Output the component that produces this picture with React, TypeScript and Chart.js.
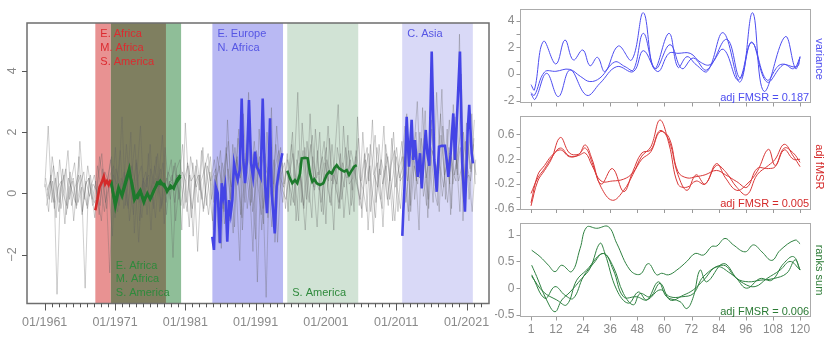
import React, { useEffect, useRef } from "react";
import { Chart, registerables } from "chart.js";

Chart.register(...registerables);

const FONT = '"Liberation Sans", Arial, Helvetica, sans-serif';

// ================= MAIN CHART DATA =================
const greyFirstYear = 1961;
const greyStepYears = 0.5;
const greyStartOffsets = [0, 0.25, 0.12, 0.37, 0.06, 0.31];

const grey1 = [0.2, 2.2, -0.3, 0.5, -0.6, 0.3, 0.8, -0.2, 0.4, -0.5, 1.7, 0.1, -0.4, 0.6,
  -0.3, 0.9, 0.2, -0.6, 0.5, 1.2, -0.8, 0.3, 2.5, -0.4, 0.7, -0.2, 1.1, -0.9, 0.4, 0.2, 1.6, -0.5, 0.3, 0.8, -1.0, 0.5, 1.1, -0.3,
  0.6, -1.2, 2.3, 0.2, -0.5, 0.9, 0.1, 1.5, -0.4, 0.7,
  -1.2, 0.5, 1.4, -0.6, 2.4, 0.3, -1.1, 1.8, 0.6, -0.3, 3.3, 0.1, -1.5, 2.1, 0.4, -3.4, 1.2, 0.3, 2.2, 0.5,
  0.2, 1.3, -0.4, 0.9, 3.3, -0.3, 1.5, 0.4, -0.8, 2.1, 0.6, 1.2, -1.0, 1.8, 0.3, 0.9, -0.5, 2.2, 0.5, 1.1,
  -0.6, 2.5, 0.4, 1.3, -1.2, 0.8, 1.9, 0.1, -0.5, 1.6, 0.7, -0.9, 1.2, 0.5,
  0.9, 2.6, -0.4, 1.4, 3.0, 0.3, 1.8, -0.8, 2.4, 0.6, 1.1, 3.4, -0.2, 1.5, 0.7, 0.4, 5.2, -0.9, 2.3, 0.8, 1.6];

const grey2 = [-0.4, 0.3, 0.9, -3.3, 0.2, 0.6, -0.5, 0.4, 1.0, -0.3, 0.2, -3.1, 0.5, -0.2,
  0.4, -0.7, 0.8, 0.1, -2.6, 0.6, 0.3, 1.4, -0.5, 0.2, 2.0, -1.3, 0.5, 0.9, -0.4, 1.3, 0.1, -0.8, 0.6, 1.9, -0.3, 0.4, -2.1, 0.8,
  1.1, 0.2, -0.6, 1.2, 0.5, -1.9, 0.4, 0.8, 1.3, -0.2,
  0.6, -1.6, 1.0, 0.3, -0.9, 1.6, 0.2, -2.2, 2.6, 0.5, -0.4, 1.3, -2.9, 0.7, 1.5, -0.8, 2.8, -1.6, 0.4, 1.0,
  -0.5, 0.8, 2.0, -0.9, 0.6, 1.4, -0.2, 2.6, 0.3, -1.1, 0.9, 1.7, 0.2, -0.4, 1.2, 2.9, -0.2, 0.7, 1.4, 0.1,
  1.2, -0.4, 2.0, 0.3, 0.9, -1.3, 1.5, 0.6, 2.2, -0.2, 0.9, 1.4, -0.6, 1.0,
  2.2, -0.6, 1.5, 0.8, -1.2, 2.8, 0.5, 1.2, -0.3, 3.3, 0.9, 0.2, 2.1, -0.7, 1.8, 0.6, 3.9, -0.4, 1.2, 2.6, 0.3];

const grey3 = [0.5, -0.2, 0.4, -0.8, 1.1, 0.0, -0.4, 0.7, -0.9, 0.3, 0.6, -0.2, 0.9, 0.1,
  -0.8, 0.5, 1.3, -0.3, 0.2, -1.4, 0.8, 0.4, -0.2, 1.6, 0.3, -0.7, 0.6, 2.2, -0.2, 0.5, -1.2, 0.9, 0.3, -0.4, 1.5, 0.2, 0.6, -0.9,
  0.3, 1.6, -0.3, 0.6, -1.4, 1.1, 0.3, -0.5, 0.9, 0.4,
  1.1, 0.2, -1.8, 0.9, 1.7, -0.4, 0.8, 2.1, -1.2, 1.0, 0.3, -1.9, 1.4, 0.6, -1.0, 2.0, 0.2, 1.1, -1.6, 0.6,
  1.0, -0.6, 1.6, 0.4, -0.9, 2.3, 0.7, -0.3, 1.2, 0.5, 2.0, -0.7, 1.1, 0.6, -1.2, 1.5, 0.8, 0.2, 1.9, -0.4,
  0.5, 1.8, -0.8, 1.1, 0.4, 2.4, -0.3, 0.8, -1.1, 1.3, 0.4, 2.0, 0.2, -0.5,
  1.2, 0.4, 2.4, -0.2, 1.1, 0.6, 2.7, -0.5, 1.4, 0.9, -0.6, 2.2, 1.0, 0.3, 2.9, 0.8, 1.5, -0.3, 1.9, 0.7, 2.4];

const grey4 = [-0.1, 0.6, -0.5, 0.2, 0.4, -1.0, 0.5, 0.1, -0.3, 1.2, -0.6, 0.4, -0.1, 0.3,
  0.1, -0.4, 0.6, 0.3, 1.1, -0.2, -0.6, 0.5, 0.2, -0.5, 0.9, 0.4, -1.6, 0.3, 0.7, -0.1, 0.4, 1.2, -0.6, 0.2, 0.5, -0.2, 0.9, 0.3,
  -0.4, 0.5, 0.9, -0.8, 0.3, 0.6, -0.2, 1.0, 0.1, -0.9,
  0.4, 0.9, -0.5, 1.3, -0.2, 0.7, 1.2, -0.7, 0.5, 1.9, -0.3, 0.8, 1.0, -1.2, 0.6, 0.9, -0.4, 1.6, 0.5, -0.3,
  0.7, 0.2, -0.3, 1.1, 0.6, -0.5, 0.9, 1.6, 0.1, 0.7, -0.6, 1.0, 0.4, 1.6, 0.2, -0.3, 1.0, 0.5, -0.7, 0.9,
  0.3, -0.2, 0.9, 1.5, -0.6, 0.6, 0.2, 1.1, 0.5, -0.4, 1.8, 0.2, 0.8, 1.2,
  -0.3, 0.9, 1.3, 0.4, 2.0, -0.1, 0.7, 1.6, 0.2, -0.4, 1.9, 0.6, 1.1, -0.5, 2.5, 0.4, 0.9, 1.7, -0.2, 1.3, 0.6];

const grey5 = [0.3, -0.6, 1.2, 0.4, -0.3, 0.8, -0.7, 0.2, 0.5, -0.4, 0.3, 0.7, -0.5, 0.2,
  0.6, -0.2, -0.9, 0.7, 0.4, 0.1, 1.5, -0.4, 0.3, 0.6, -0.9, 0.2, 1.0, -0.3, 0.5, -0.7, 0.8, 0.3, 1.3, -0.5, 0.1, 0.7, 0.4, 1.0,
  -0.2, 0.7, 0.4, -1.1, 1.0, 0.2, 0.6, -0.6, 0.4, 1.2,
  -0.3, 1.2, 0.5, -1.0, 0.8, 0.2, 1.5, 0.4, -0.8, 0.9, 2.2, -0.6, 0.3, 1.2, -0.5, 0.4, 1.3, -0.9, 0.8, 1.5,
  0.3, 1.1, 0.6, -0.4, 1.4, 0.2, -1.2, 0.8, 1.9, 0.4, 0.1, 0.8, 1.5, -0.3, 0.6, 0.3, 1.3, -0.8, 0.6, 1.4,
  0.8, 0.2, -0.5, 0.7, 1.3, 0.1, -0.8, 1.6, 0.3, 0.9, -0.2, 0.6, 1.5, 0.4,
  0.6, 1.5, -0.6, 0.9, 0.3, 1.8, 1.0, -0.2, 2.1, 0.5, 1.3, -0.1, 0.8, 2.4, 0.3, 1.1, -0.6, 2.0, 0.9, 0.4, 1.8];

const grey6 = [0.1, 0.4, -0.3, 0.7, -0.5, 0.3, 1.4, -0.4, 0.2, 0.6, -0.7, 0.3, 0.5, -0.4,
  -0.2, 1.2, 0.3, -0.5, 0.6, 0.9, -0.3, 0.2, 0.7, -0.4, 0.5, 1.6, 0.1, -0.8, 0.4, 0.6, -0.2, 0.5, 0.2, 1.0, -0.7, 0.4, 0.3, 0.6,
  0.5, -0.5, 1.0, 0.4, 0.6, -0.3, 1.4, 0.2, -0.7, 0.5,
  0.8, -0.4, 0.3, 1.5, 0.1, -1.3, 1.1, 0.5, 1.3, -0.5, 0.6, 1.7, 0.3, -0.7, 1.3, 0.4, -1.1, 0.9, 1.4, 0.1,
  -0.2, 0.6, 1.3, 0.3, 1.0, -0.4, 1.7, 0.5, 0.2, 1.4, -0.3, 0.6, 2.2, 0.4, 0.9, -0.5, 0.6, 1.5, 0.3, 0.5,
  1.4, 0.5, 0.1, -0.6, 1.6, 0.6, 1.0, -0.2, 0.7, 1.2, 0.3, -0.9, 0.8, 1.7,
  0.4, -0.9, 1.1, 2.0, 0.5, 0.8, -0.4, 1.6, 1.2, 0.2, 2.6, 0.7, -0.3, 1.2, 0.6, 1.4, 2.2, 0.4, 0.6, -0.6, 1.1];

const greySeries = [grey1, grey2, grey3, grey4, grey5, grey6];

const redYears = [1968.2, 1968.5, 1968.8, 1969.1, 1969.4, 1969.6, 1969.85, 1970.1, 1970.35];
const redVals = [-0.55, -0.2, 0.2, 0.35, 0.55, 0.3, 0.4, 0.28, 0.45];

const greenAYears = [1970.43, 1971.04, 1971.53, 1972.0, 1972.47, 1973.03, 1973.42, 1973.75, 1974.13, 1974.6, 1975.08,
  1975.55, 1976.02, 1976.5, 1976.97, 1977.44, 1977.93, 1978.4, 1978.87, 1979.35, 1979.82, 1980.29];
const greenAVals = [0.44, -0.44, 0.11, 0.0, 0.38, 0.82, 0.22, -0.22, -0.06, 0.11, -0.22,
  -0.05, -0.16, 0.1, 0.27, 0.41, 0.24, 0.13, 0.16, 0.22, 0.38, 0.54];
const greenBYears = [1970.43, 1971.0, 1971.5, 1972.0, 1972.5, 1973.0, 1973.4, 1973.8, 1974.2, 1974.6, 1975.1,
  1975.6, 1976.0, 1976.5, 1977.0, 1977.5, 1978.0, 1978.4, 1978.9, 1979.35, 1979.8, 1980.3];
const greenBVals = [0.35, -0.3, 0.2, -0.1, 0.3, 0.7, 0.35, -0.1, -0.15, 0.05, -0.3,
  0.0, -0.2, 0.05, 0.35, 0.3, 0.3, 0.05, 0.25, 0.15, 0.45, 0.6];

const blueAYears = [1984.84, 1985.08, 1985.32, 1985.61, 1985.94, 1986.18, 1986.41, 1986.65, 1986.97, 1987.22,
  1987.46, 1987.69, 1987.93, 1988.21, 1988.45, 1988.74, 1989.02, 1989.25, 1989.49, 1989.78,
  1990.06, 1990.35, 1990.63, 1990.91, 1991.16, 1991.38, 1991.73, 1992.01, 1992.34, 1992.62,
  1992.81, 1993.05, 1993.29, 1993.52, 1993.72, 1994.0, 1994.33, 1994.61, 1994.8];
const blueAVals = [-1.42, -1.85, 0.22, 0.0, -1.63, 0.33, -0.11, 0.22, -1.58, -0.22,
  -0.65, -0.22, 0.98, 0.65, 0.43, 0.76, 3.1, 1.09, 0.33, 1.09,
  3.05, 0.98, 0.54, 1.36, 0.87, 0.76, 0.54, 3.1, 0.33, -0.65,
  0.43, 2.45, 0.0, -0.65, -1.31, 0.22, 0.76, 1.09, 1.31];

const greenCYears = [1995.51, 1995.89, 1996.22, 1996.6, 1996.93, 1997.32, 1997.56, 1998.03, 1998.41, 1998.74,
  1999.07, 1999.35, 1999.69, 2000.16, 2000.63, 2001.11, 2001.48, 2001.83, 2002.19, 2002.54,
  2002.86, 2003.25, 2003.62, 2003.96, 2004.29, 2004.57, 2005.0, 2005.38];
const greenCVals = [0.74, 0.49, 0.33, 0.43, 0.33, 0.65, 1.14, 1.16, 1.14, 0.65,
  0.38, 0.46, 0.33, 0.27, 0.33, 0.6, 0.71, 0.65, 0.82, 0.92,
  0.82, 0.76, 0.71, 0.76, 0.6, 0.71, 0.87, 0.92];

const blueBYears = [2011.87, 2012.01, 2012.2, 2012.49, 2012.82, 2013.2, 2013.43, 2013.67, 2014.06, 2014.39,
  2014.63, 2014.86, 2015.2, 2015.42, 2015.71, 2016.05, 2016.42, 2016.76, 2017.09, 2017.47,
  2017.94, 2018.18, 2018.41, 2018.75, 2019.12, 2019.36, 2019.69, 2020.07, 2020.4, 2020.78,
  2021.17, 2021.39, 2021.73, 2021.92];
const blueBVals = [-1.39, -0.6, 0.3, 2.5, 0.87, 2.4, 1.09, 1.74, 0.54, 1.31,
  0.16, 0.98, 2.07, 1.31, 0.9, 4.63, 1.09, 0.05, 1.52, 1.55,
  1.55, 1.09, 0.54, 1.31, 2.61, 1.09, 2.72, 4.63, 0.98, -0.6,
  2.07, 2.89, 1.31, 0.98];

const regionStarts = [1968.2, 1970.4, 1978.25, 1984.85, 1995.5, 2011.85];
const regionEnds = [1970.4, 1978.25, 1980.4, 1994.9, 2005.6, 2021.9];

const labelGroups = [
  ["E. Africa", "M. Africa", "S. America"],
  ["E. Africa", "M. Africa", "S. America"],
  ["E. Europe", "N. Africa"],
  ["S. America"],
  ["C. Asia"],
];
const labelGroupYears = [1968.2, 1970.4, 1984.85, 1995.5, 2011.85];
const labelGroupAtTop = [true, false, true, false, true];

const mainYTicks = [-2, 0, 2, 4];
const mainYLabels = ["\u22122", "0", "2", "4"];
const mainXLabelYears = [1961, 1971, 1981, 1991, 2001, 2011, 2021];
const mainXLabels = ["01/1961", "01/1971", "01/1981", "01/1991", "01/2001", "01/2011", "01/2021"];
const mainMinorFirst = 1961;
const mainMinorLast = 2023;

// ================= RIGHT PANELS DATA =================
const panelXTicks = [1, 12, 24, 36, 48, 60, 72, 84, 96, 108, 120];
const panelXLabels = ["1", "12", "24", "36", "48", "60", "72", "84", "96", "108", "120"];

const varT1 = [1, 2.5, 6.5, 12, 16, 19.7, 23.9, 27.1, 30.4, 33.7, 39.6, 45.5, 50.7, 55.5, 62, 66, 70, 74, 79, 86, 93.5, 99, 104, 113.4, 118, 120];
const varV1 = [-0.8, -1.2, 2.45, 0.75, 2.55, 1.05, 1.8, 0.62, 1.25, 0.18, 2.1, 1.05, 4.6, 0.4, 3.05, 0.5, 1.3, 0.7, 0.2, 3.1, -0.6, 4.6, -1.3, 2.8, 0.4, 1.3];
const varT2 = [1, 2.5, 7, 12, 18, 23, 27, 31.5, 38, 42.6, 46.3, 50.7, 56, 62.5, 67.7, 72.8, 78.7, 87.6, 93.5, 98.6, 105.3, 112.7, 117.1, 120];
const varV2 = [-1.4, -1.6, 0.15, 0.2, 0.35, -0.2, -0.57, -0.3, 0.9, 0.55, 0.3, 3.05, 0.4, 2.2, 0.4, 1.2, 0.3, 2.6, -0.3, 2.4, -0.6, 0.7, 0.4, 1.2];
const varT3 = [1, 2.8, 7.9, 13.1, 18.3, 25.6, 31.5, 38.9, 46.3, 50.7, 57, 62, 66, 71.4, 75.8, 80.2, 86.1, 92.7, 98.6, 105.3, 111.2, 118.6, 120];
const varV3 = [-1.5, -1.9, 0.05, -1.7, 0.3, -1.6, -0.7, 0.55, 0.18, 1.75, 0.18, 1.55, 1.55, 1.55, 0.9, 0.7, 1.85, -0.45, 2.35, -0.45, 0.7, 0.55, 1.3];

const fmsrT = [1, 4, 7, 10, 14, 18, 22, 25, 28, 32, 37, 42, 46, 50, 54, 58, 62, 66, 70, 74, 78, 83, 87, 92, 96.5, 101, 106, 109, 113, 117, 120];
const fmsrV1 = [-0.55, -0.15, 0.02, 0.2, 0.55, 0.3, 0.28, 0.38, 0.15, -0.25, -0.46, -0.3, -0.05, 0.25, 0.4, 0.83, 0.45, -0.2, -0.25, -0.15, -0.2, 0.1, 0.0, -0.25, -0.37, -0.05, 0.1, 0.2, 0.44, 0.25, 0.08];
const fmsrV2 = [-0.35, -0.1, 0.05, 0.22, 0.38, 0.25, 0.27, 0.43, 0.2, -0.2, 0.05, -0.32, 0.0, 0.3, 0.35, 0.66, 0.5, -0.05, -0.3, -0.05, -0.2, 0.13, -0.1, -0.3, -0.2, 0.0, 0.36, 0.1, 0.38, 0.3, 0.15];
const fmsrV3 = [-0.5, -0.05, 0.1, 0.25, 0.35, 0.24, 0.26, 0.3, 0.1, -0.15, -0.15, -0.12, -0.02, 0.2, 0.32, 0.64, 0.55, 0.0, -0.1, -0.08, -0.05, 0.02, -0.05, -0.16, -0.25, 0.05, 0.05, 0.08, 0.35, 0.2, 0.2];

const rankT1 = [1.3, 5.0, 8.7, 11.6, 14.6, 19.0, 22.7, 25.6, 30.1, 35.2, 38.9, 44.8, 49.2, 52.9, 56.6, 58.8, 61.8, 65.5, 69.9, 73.6, 77.3, 80.9, 83.2, 86.8, 90.5, 95.7, 99.4, 103.1, 107.5, 111.2, 117.8, 120];
const rankV1 = [0.71, 0.59, 0.43, 0.31, 0.43, 0.31, 0.74, 1.14, 1.12, 1.15, 0.84, 0.34, 0.26, 0.46, 0.25, 0.28, 0.25, 0.34, 0.5, 0.65, 0.62, 0.78, 0.79, 0.93, 0.81, 0.68, 0.81, 0.68, 0.52, 0.71, 0.9, 0.83];
const rankT2 = [1.3, 3.5, 7.9, 11.6, 14.6, 18.3, 23.4, 27.1, 31.5, 33.7, 38.9, 44.1, 48.5, 52.2, 57.3, 61.0, 66.9, 69.9, 72.8, 75.8, 78.7, 86.1, 92.0, 96.4, 102.3, 107.5, 112.7, 117.1, 120];
const rankV2 = [0.43, 0.22, -0.22, -0.44, -0.22, -0.07, 0.18, 0.37, 0.84, 0.65, -0.03, -0.28, -0.07, -0.22, 0.12, -0.16, -0.25, -0.38, -0.16, 0.34, 0.12, 0.46, 0.18, 0.0, 0.18, 0.15, 0.46, 0.59, 0.34];
const rankT3 = [1.3, 7.2, 11.6, 16.0, 19.7, 24.2, 28.6, 33.0, 37.4, 41.9, 46.3, 49.2, 53.7, 58.1, 62.5, 68.4, 72.8, 77.3, 83.2, 89.1, 95.0, 100.1, 105.3, 111.2, 115.6, 120];
const rankV3 = [0.25, -0.19, 0.03, -0.13, -0.19, 0.22, 0.46, 0.65, 0.4, -0.1, -0.31, -0.1, -0.16, 0.09, -0.22, -0.13, -0.03, 0.15, 0.4, 0.28, 0.09, 0.03, 0.18, 0.34, 0.5, 0.34];
const rankT4 = [1.3, 6.5, 12.4, 16.8, 21.2, 25.6, 33.0, 37.4, 41.9, 47.8, 52.2, 58.1, 62.5, 67.7, 72.8, 77.3, 86.1, 92.0, 97.2, 102.3, 108.2, 114.1, 117.8, 120];
const rankV4 = [0.22, -0.07, -0.22, -0.31, 0.15, 0.34, 0.65, 0.34, -0.16, -0.16, -0.22, -0.03, -0.16, -0.16, -0.1, 0.22, 0.43, 0.18, 0.12, 0.15, 0.18, 0.28, 0.53, 0.34];

// ================= STYLES =================
const C = {
  red: "#d42a2a",
  green: "#1d7a2c",
  blue: "#4444e6",
  redText: "#dc2b30",
  greenText: "#2f8a3c",
  blueText: "#5656e4",
  grey: "rgba(95,95,95,0.38)",
  tick: "#8a8a8a",
  frame: "#6e6e6e",
  panelFrame: "#ababab",
};
const regionFills = ["#e89292", "#7f7f60", "#8fbe98", "#b9b9f3", "#d1e3d5", "#d9d9f7"];
const labelColors = [C.redText, C.greenText, C.blueText, C.greenText, C.blueText];

const toXY = (xs: number[], ys: number[]) => xs.map((x, i) => ({ x, y: ys[i] }));

const mainDecor = {
  id: "mainDecor",
  beforeDatasetsDraw(chart: any) {
    const { ctx, chartArea: a, scales } = chart;
    const x = scales.x;
    ctx.save();
    regionStarts.forEach((s, i) => {
      const x0 = x.getPixelForValue(s);
      const x1 = x.getPixelForValue(regionEnds[i]);
      ctx.fillStyle = regionFills[i];
      ctx.fillRect(x0, a.top, x1 - x0, a.bottom - a.top);
    });
    ctx.restore();
  },
  afterDraw(chart: any) {
    const { ctx, chartArea: a, scales } = chart;
    const x = scales.x, y = scales.y;
    ctx.save();
    ctx.font = `11px ${FONT}`;
    ctx.textAlign = "left";
    ctx.textBaseline = "alphabetic";
    labelGroups.forEach((lines, g) => {
      ctx.fillStyle = labelColors[g];
      const lx = x.getPixelForValue(labelGroupYears[g]) + 5;
      lines.forEach((t, k) => {
        const by = labelGroupAtTop[g]
          ? a.top + 14.3 + k * 13.6
          : a.bottom - 7.5 - (lines.length - 1 - k) * 13.6;
        ctx.fillText(t, lx, by);
      });
    });
    ctx.strokeStyle = C.frame;
    ctx.lineWidth = 1.5;
    ctx.strokeRect(a.left, a.top, a.right - a.left, a.bottom - a.top);
    ctx.lineWidth = 1;
    ctx.strokeStyle = "#555";
    for (let yr = mainMinorFirst; yr <= mainMinorLast; yr++) {
      const px = Math.round(x.getPixelForValue(yr)) + 0.5;
      const major = mainXLabelYears.includes(yr);
      ctx.beginPath();
      ctx.moveTo(px, a.bottom);
      ctx.lineTo(px, a.bottom + (major ? 7 : 3.8));
      ctx.stroke();
    }
    ctx.fillStyle = C.tick;
    ctx.font = `12.5px ${FONT}`;
    ctx.textAlign = "center";
    mainXLabelYears.forEach((yr, i) => {
      ctx.fillText(mainXLabels[i], x.getPixelForValue(yr), a.bottom + 22);
    });
    mainYTicks.forEach((v, i) => {
      const py = Math.round(y.getPixelForValue(v)) + 0.5;
      ctx.beginPath();
      ctx.moveTo(a.left, py);
      ctx.lineTo(a.left - 5, py);
      ctx.stroke();
      ctx.save();
      ctx.translate(13, y.getPixelForValue(v));
      ctx.rotate(-Math.PI / 2);
      ctx.textAlign = "center";
      ctx.textBaseline = "middle";
      ctx.fillText(mainYLabels[i], 0, 0);
      ctx.restore();
    });
    ctx.restore();
  },
};

function panelDecor(o: any) {
  return {
    id: "panelDecor",
    afterDraw(chart: any) {
      const { ctx, chartArea: a, scales } = chart;
      const x = scales.x, y = scales.y;
      ctx.save();
      ctx.strokeStyle = C.panelFrame;
      ctx.lineWidth = 1;
      ctx.strokeRect(Math.round(a.left) + 0.5, Math.round(a.top) + 0.5, Math.round(a.right - a.left) - 1, Math.round(a.bottom - a.top) - 1);
      ctx.strokeStyle = "#999";
      o.yTicks.forEach((v: number) => {
        const py = Math.round(y.getPixelForValue(v)) + 0.5;
        ctx.beginPath();
        ctx.moveTo(a.left, py);
        ctx.lineTo(a.left - 3.5, py);
        ctx.stroke();
      });
      ctx.fillStyle = C.tick;
      ctx.font = `12px ${FONT}`;
      ctx.textAlign = "right";
      ctx.textBaseline = "middle";
      o.yLabelVals.forEach((v: number, i: number) => {
        ctx.fillText(o.yLabels[i], a.left - 5.5, y.getPixelForValue(v));
      });
      panelXTicks.forEach((t) => {
        const px = Math.round(x.getPixelForValue(t)) + 0.5;
        ctx.beginPath();
        ctx.moveTo(px, a.bottom);
        ctx.lineTo(px, a.bottom + 3.5);
        ctx.stroke();
      });
      if (o.xLabels) {
        ctx.textAlign = "center";
        ctx.textBaseline = "alphabetic";
        panelXTicks.forEach((t, i) => {
          ctx.fillText(panelXLabels[i], x.getPixelForValue(t), a.bottom + 16);
        });
      }
      ctx.fillStyle = o.color;
      ctx.font = `11px ${FONT}`;
      ctx.textAlign = "right";
      ctx.textBaseline = "alphabetic";
      ctx.fillText(o.note, a.right - 1.5, a.bottom - 2.5);
      ctx.translate(a.right + 8.5, (a.top + a.bottom) / 2 + o.titleShift);
      ctx.rotate(Math.PI / 2);
      ctx.textAlign = "center";
      ctx.textBaseline = "middle";
      ctx.fillText(o.title, 0, 0);
      ctx.restore();
    },
  };
}

function makePanel(canvas: HTMLCanvasElement, series: any[], color: string, pad: any, ymin: number, ymax: number, deco: any) {
  return new Chart(canvas, {
    type: "line",
    data: {
      datasets: series.map((s) => ({
        data: s,
        borderColor: color,
        borderWidth: 1,
        pointRadius: 0,
        tension: 0.4,
        fill: false,
      })),
    },
    options: {
      responsive: false,
      animation: false,
      events: [],
      layout: { padding: pad },
      plugins: { legend: { display: false }, tooltip: { enabled: false } },
      scales: {
        x: { type: "linear", min: -3.87, max: 124.7, display: false },
        y: { type: "linear", min: ymin, max: ymax, display: false },
      },
    },
    plugins: [panelDecor(deco)],
  } as any);
}

export default function App() {
  const mainRef = useRef<HTMLCanvasElement>(null);
  const p1Ref = useRef<HTMLCanvasElement>(null);
  const p2Ref = useRef<HTMLCanvasElement>(null);
  const p3Ref = useRef<HTMLCanvasElement>(null);

  useEffect(() => {
    const greyDatasets = greySeries.map((s, k) => ({
      data: s.map((v, i) => ({ x: greyFirstYear + greyStartOffsets[k] + i * greyStepYears, y: v })),
      borderColor: C.grey,
      borderWidth: 0.8,
      pointRadius: 0,
      tension: 0,
      order: 2,
    }));
    const thick = (xs: number[], ys: number[], col: string) => ({
      data: toXY(xs, ys),
      borderColor: col,
      borderWidth: 2.6,
      pointRadius: 0,
      tension: 0,
      order: 1,
    });
    const main = new Chart(mainRef.current!, {
      type: "line",
      data: {
        datasets: [
          thick(redYears, redVals, C.red),
          thick(greenAYears, greenAVals, C.green),
          thick(greenBYears, greenBVals, C.green),
          thick(blueAYears, blueAVals, C.blue),
          thick(greenCYears, greenCVals, C.green),
          thick(blueBYears, blueBVals, C.blue),
          ...greyDatasets,
        ],
      },
      options: {
        responsive: false,
        animation: false,
        events: [],
        layout: { padding: { left: 27, top: 23, right: 11, bottom: 38.5 } },
        plugins: { legend: { display: false }, tooltip: { enabled: false } },
        scales: {
          x: { type: "linear", min: 1958.48, max: 2024.2, display: false },
          y: { type: "linear", min: -3.6, max: 5.565, display: false },
        },
      },
      plugins: [mainDecor],
    } as any);

    const p1 = makePanel(p1Ref.current!, [toXY(varT1, varV1), toXY(varT2, varV2), toXY(varT3, varV3)], "#4d4df0",
      { left: 25, top: 9, right: 19.3, bottom: 7 }, -2.18, 4.88,
      { yTicks: [-2, -1, 0, 1, 2, 3, 4], yLabelVals: [-2, 0, 2, 4], yLabels: ["-2", "0", "2", "4"], xLabels: false,
        color: "#4d4df0", note: "adj FMSR = 0.187", title: "variance", titleShift: 3 });
    const p2 = makePanel(p2Ref.current!, [toXY(fmsrT, fmsrV1), toXY(fmsrT, fmsrV2), toXY(fmsrT, fmsrV3)], "#d93838",
      { left: 25, top: 6, right: 19.3, bottom: 7.5 }, -0.608, 0.895,
      { yTicks: [-0.6, -0.4, -0.2, 0, 0.2, 0.4, 0.6], yLabelVals: [-0.6, -0.2, 0.2, 0.6], yLabels: ["-0.6", "-0.2", "0.2", "0.6"], xLabels: false,
        color: "#d42a2a", note: "adj FMSR = 0.005", title: "adj fMSR", titleShift: 4 });
    const p3 = makePanel(p3Ref.current!, [toXY(rankT1, rankV1), toXY(rankT2, rankV2), toXY(rankT3, rankV3), toXY(rankT4, rankV4)], "#2e8040",
      { left: 25, top: 6, right: 19.3, bottom: 25 }, -0.538, 1.219,
      { yTicks: [-0.5, 0, 0.5, 1], yLabelVals: [-0.5, 0, 0.5, 1], yLabels: ["-0.5", "0", "0.5", "1"], xLabels: true,
        color: "#2a7a34", note: "adj FMSR = 0.006", title: "ranks sum", titleShift: 0 });

    return () => {
      main.destroy();
      p1.destroy();
      p2.destroy();
      p3.destroy();
    };
  }, []);

  return (
    <div style={{ position: "absolute", left: 0, top: 0, width: 830, height: 342, background: "#fff", overflow: "hidden" }}>
      <canvas ref={mainRef} width={500} height={342} style={{ position: "absolute", left: 0, top: 0, width: 500, height: 342 }} />
      <canvas ref={p1Ref} width={335} height={110} style={{ position: "absolute", left: 495, top: 0, width: 335, height: 110 }} />
      <canvas ref={p2Ref} width={335} height={107} style={{ position: "absolute", left: 495, top: 110, width: 335, height: 107 }} />
      <canvas ref={p3Ref} width={335} height={125} style={{ position: "absolute", left: 495, top: 217, width: 335, height: 125 }} />
    </div>
  );
}
